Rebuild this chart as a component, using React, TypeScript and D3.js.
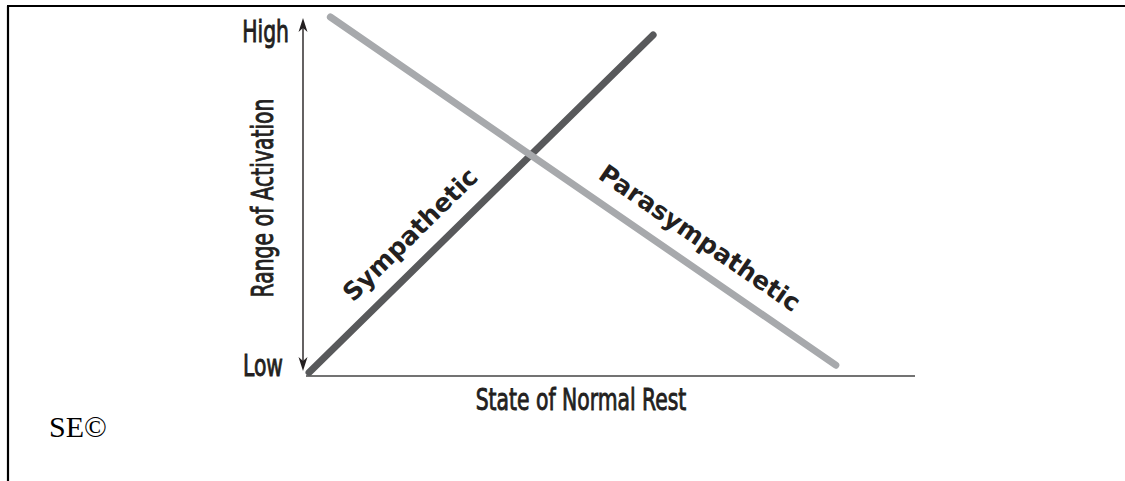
import React, { useEffect, useRef } from "react";
import * as d3 from "d3";

// values (0..100 on both axes)
const seriesNames = ["Sympathetic", "Parasympathetic"];
const sympatheticX = [0.5, 57];
const sympatheticY = [1, 95];
const parasympatheticX = [4, 87];
const parasympatheticY = [100, 3];
const yTickLabels = ["Low", "High"];
const xAxisTitle = "State of Normal Rest";
const yAxisTitle = "Range of Activation";
const footnote = "SE©";

const W = 1125;
const H = 481;

const condensed = "'DejaVu Sans Condensed', 'DejaVu Sans', sans-serif";
const bold = "'DejaVu Sans', 'Noto Sans', sans-serif";
const squeeze = 0.73; // no Futura Condensed here, so squash a regular face

const App = () => {
  const ref = useRef<SVGSVGElement>(null);

  useEffect(() => {
    const svg = d3.select(ref.current);
    svg.selectAll("*").remove();

    const x = d3.scaleLinear().domain([0, 100]).range([306, 915]);
    const y = d3.scaleLinear().domain([0, 100]).range([376, 17]);

    // page frame (top and left rules)
    svg.append("line").attr("x1", 7).attr("x2", W).attr("y1", 6).attr("y2", 6)
      .attr("stroke", "#000").attr("stroke-width", 2.2);
    svg.append("line").attr("x1", 8).attr("x2", 8).attr("y1", 6).attr("y2", H)
      .attr("stroke", "#000").attr("stroke-width", 2.2);

    // y axis: double headed arrow
    const ax = 303;
    const top = y(100) + 1;
    const bot = y(0) - 5;
    svg.append("line")
      .attr("x1", ax).attr("x2", ax)
      .attr("y1", bot - 8).attr("y2", top + 8)
      .attr("stroke", "#231f20").attr("stroke-width", 1.4);
    const head = (tip: number, dir: number) =>
      svg.append("path")
        .attr("d", `M${ax},${tip} L${ax + 4.5},${tip + dir * 14} L${ax},${tip + dir * 10} L${ax - 4.5},${tip + dir * 14} Z`)
        .attr("fill", "#231f20");
    head(top, 1);
    head(bot, -1);

    // x axis
    svg.append("line")
      .attr("x1", x(0)).attr("x2", x(100))
      .attr("y1", y(0)).attr("y2", y(0))
      .attr("stroke", "#444").attr("stroke-width", 1.6);

    // medium weight: regular face with a thin outline
    const label = (txt: string, tx: number, ty: number, anchor: string, rot = 0) =>
      svg.append("text").text(txt)
        .attr("transform", `translate(${tx},${ty}) rotate(${rot}) scale(${squeeze},1)`)
        .attr("text-anchor", anchor)
        .attr("font-family", condensed).attr("font-size", 31)
        .attr("fill", "#231f20")
        .attr("stroke", "#231f20").attr("stroke-width", 0.9);

    label(yTickLabels[1], 289, 42, "end");
    label(yTickLabels[0], 283, 376, "end");
    label(xAxisTitle, 581, 410, "middle");
    label(yAxisTitle, 273, 198, "middle", -90);

    const series = [
      { name: seriesNames[0], xs: sympatheticX, ys: sympatheticY, color: "#58595b", at: 0.35, off: 19 },
      { name: seriesNames[1], xs: parasympatheticX, ys: parasympatheticY, color: "#a7a9ac", at: 0.7, off: 19 },
    ];

    const line = d3.line<[number, number]>().x((d) => x(d[0])).y((d) => y(d[1]));

    series.forEach((s) => {
      const pts = s.xs.map((v, i) => [v, s.ys[i]] as [number, number]);
      svg.append("path")
        .datum(pts)
        .attr("d", line)
        .attr("fill", "none")
        .attr("stroke", s.color)
        .attr("stroke-width", 7)
        .attr("stroke-linecap", "round");

      // label rides along the line, just above it
      const x0 = x(pts[0][0]), y0 = y(pts[0][1]);
      const x1 = x(pts[1][0]), y1 = y(pts[1][1]);
      const ang = (Math.atan2(y1 - y0, x1 - x0) * 180) / Math.PI;
      const cx = x0 + (x1 - x0) * s.at;
      const cy = y0 + (y1 - y0) * s.at;
      svg.append("text").text(s.name)
        .attr("transform", `translate(${cx},${cy}) rotate(${ang}) translate(0,${-s.off})`)
        .attr("text-anchor", "middle")
        .attr("font-family", bold).attr("font-weight", "bold")
        .attr("font-size", 25)
        .attr("fill", "#231f20");
    });

    svg.append("text").text(footnote)
      .attr("x", 49).attr("y", 437)
      .attr("font-family", "'Liberation Serif', 'Times New Roman', serif")
      .attr("font-size", 30)
      .attr("fill", "#000");
  }, []);

  return (
    <svg
      ref={ref}
      width={W}
      height={H}
      style={{ position: "absolute", left: 0, top: 0, background: "#fff" }}
    />
  );
};

export default App;
